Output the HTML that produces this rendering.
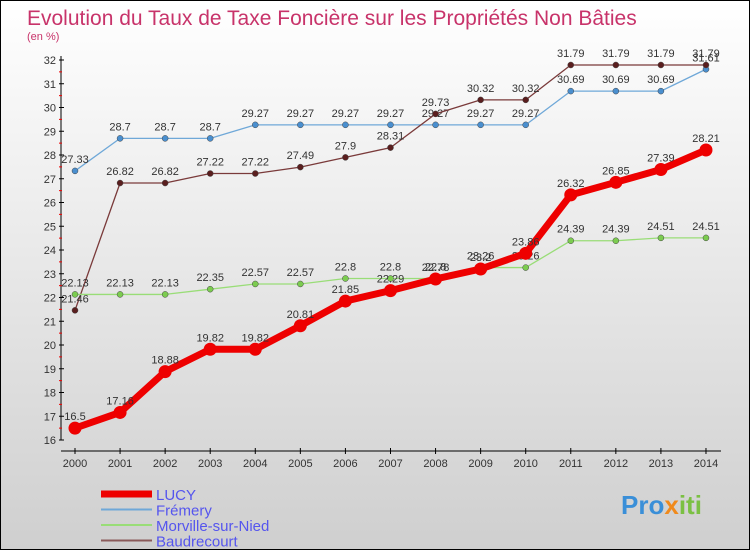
<!DOCTYPE html>
<html><head><meta charset="utf-8"><style>
body{margin:0}
#c{width:748px;height:548px;border:1px solid #000;background:linear-gradient(#fff,#cfcfcf);position:relative;font-family:"Liberation Sans",sans-serif;overflow:hidden}
</style></head><body>
<div id="c">
<svg id="s" width="748" height="548" style="position:absolute;left:0;top:0">
<text x="26" y="24" font-size="21" fill="#c8336a">Evolution du Taux de Taxe Foncière sur les Propriétés Non Bâties</text>
<text x="26" y="39" font-size="11" fill="#c8336a">(en %)</text>
<g id="g"></g>
<text x="620" y="513" font-size="26" font-weight="bold" fill="#3a8fd8">Pro<tspan fill="#f08a1c">x</tspan><tspan fill="#7bc043">iti</tspan></text>
</svg>
</div>
<script>
const years=[2000,2001,2002,2003,2004,2005,2006,2007,2008,2009,2010,2011,2012,2013,2014];
const lucy=[16.5,17.16,18.88,19.82,19.82,20.81,21.85,22.29,22.78,23.2,23.86,26.32,26.85,27.39,28.21];
const fremery=[27.33,28.7,28.7,28.7,29.27,29.27,29.27,29.27,29.27,29.27,29.27,30.69,30.69,30.69,31.61];
const morville=[22.13,22.13,22.13,22.35,22.57,22.57,22.8,22.8,22.8,23.26,23.26,24.39,24.39,24.51,24.51];
const baud=[21.46,26.82,26.82,27.22,27.22,27.49,27.9,28.31,29.73,30.32,30.32,31.79,31.79,31.79,31.79];
const yTicks=[16,17,18,19,20,21,22,23,24,25,26,27,28,29,30,31,32];
const NS="http://www.w3.org/2000/svg";
const g=document.getElementById('g');
const X=i=>74+i*45.07, Y=v=>439-(v-16)*23.75;
function el(t,a,p){const e=document.createElementNS(NS,t);for(const k in a)e.setAttribute(k,a[k]);(p||g).appendChild(e);return e;}
let ax=el('line',{x1:60,y1:55,x2:60,y2:439,stroke:'#000'});


let xa=el('line',{x1:60,y1:450,x2:720,y2:450,stroke:'#000'});


yTicks.forEach(v=>{
 el('line',{x1:58,x2:63,y1:Y(v),y2:Y(v),stroke:'#000'});
 if(v<32)el('line',{x1:58,x2:61,y1:Y(v+0.5),y2:Y(v+0.5),stroke:'#e00'});
 const t=el('text',{x:55,y:Y(v)+4,'font-size':11,'text-anchor':'end',fill:'#333'});t.textContent=v;
 
 
});
years.forEach((y,i)=>{
 el('line',{x1:X(i),x2:X(i),y1:447,y2:453,stroke:'#000'});
 const t=el('text',{x:X(i),y:466,'font-size':11,'text-anchor':'middle',fill:'#333'});t.textContent=y;
 
 
});
function series(d,col,dot,w,r,name){
 const p=el('polyline',{points:d.map((v,i)=>X(i)+','+Y(v)).join(' '),fill:'none',stroke:col,'stroke-width':w,'stroke-linejoin':'round'});
 
 
 d.forEach((v,i)=>{
  const c=el('circle',{cx:X(i),cy:Y(v),r:r,fill:dot,stroke:'#444','stroke-width':w>4?0:0.5});
  
  
  const t=el('text',{x:X(i),y:Y(v)-8,'font-size':11,'text-anchor':'middle',fill:'#333'});t.textContent=v;
  
  
 });
}
series(fremery,'#6fa8d8','#4a8fcf',1.3,3,'fremery');
series(baud,'#7a3a3a','#5a1e1e',1.3,3,'baudrecourt');
series(morville,'#99dd77','#7ccc50',1.3,3,'morville');
series(lucy,'#ee0000','#ee0000',7,6.5,'lucy');
const legend=[['LUCY','#ee0000',7],['Frémery','#6fa8d8',2],['Morville-sur-Nied','#99dd77',2],['Baudrecourt','#8a5a5a',2]];
legend.forEach((l,i)=>{
 const y=493+i*15.5;
 const ln=el('line',{x1:100,x2:151,y1:y,y2:y,stroke:l[1],'stroke-width':l[2]});
 
 
 const t=el('text',{x:155,y:y+6,'font-size':15,fill:'#5555ee'});t.textContent=l[0];
 
 
});
</script>
</body></html>
